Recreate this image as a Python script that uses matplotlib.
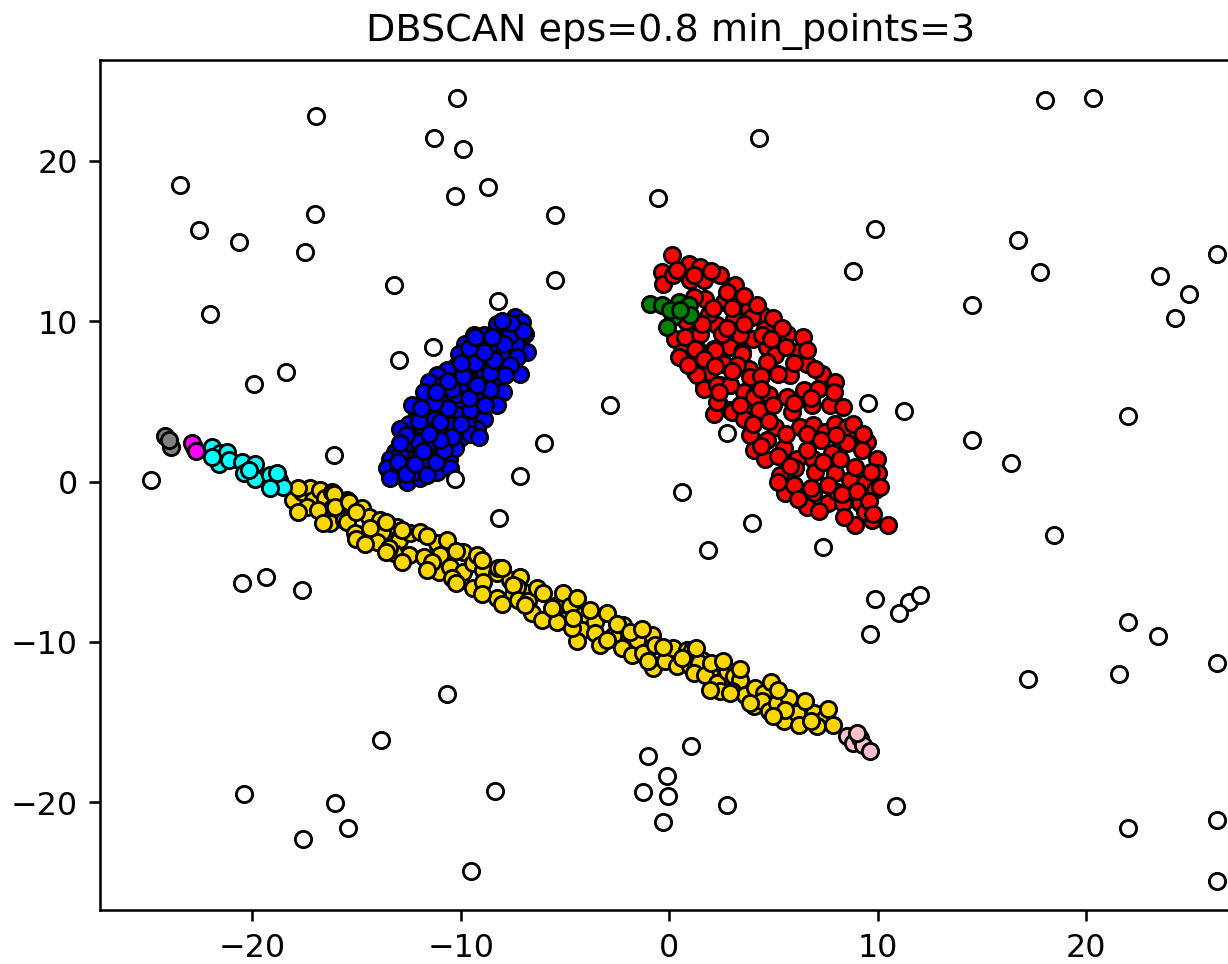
import matplotlib
matplotlib.use("Agg")
from matplotlib import pyplot as plt

# cluster members (x, y)
blue_x = [-7.39, -7.87, -6.91, -7.31, -6.83, -7.35, -7.95, -8.34, -8.82, -9.38, -9.78, -10.10,
          -8.42, -7.95, -7.31, -7.15, -7.63, -9.14, -10.26, -10.66, -11.14, -11.54, -11.78, -9.78,
          -9.38, -8.50, -7.95, -8.82, -9.22, -10.02, -10.90, -11.38, -12.10, -12.34, -12.50, -12.90,
          -11.86, -11.22, -10.66, -10.02, -9.54, -8.90, -9.22, -9.70, -10.42, -10.98, -11.78, -12.26,
          -12.74, -13.14, -13.38, -13.54, -12.98, -12.42, -11.94, -11.30, -10.66, -10.02, -9.54, -9.14,
          -12.58, -11.94, -11.14, -10.58, -10.26, -12.90, -13.38, -12.26, -11.70, -11.06, -10.50, -11.46,
          -12.02, -10.90, -10.34, -9.78, -8.90, -8.34, -7.87, -8.26, -8.82, -8.58, -9.46, -8.90,
          -8.26, -7.07, -7.63,
          -13.00, -12.60, -12.20, -11.60, -11.80, -11.20, -10.80, -10.40, -11.00, -11.50, -12.00, -12.60,
          -12.90, -11.00, -10.60, -11.30, -11.90, -10.00, -9.60, -10.40, -11.20, -9.20, -9.90, -10.60,
          -8.60, -9.30, -10.00, -8.40, -8.90, -9.60, -7.90, -8.50, -7.00, -7.60, -8.00, -9.30]
blue_y = [10.26, 9.84, 9.22, 9.53, 8.08, 8.60, 8.91, 9.33, 8.60, 9.12, 8.60, 7.98,
          8.29, 7.98, 7.77, 6.73, 7.25, 7.36, 7.15, 6.94, 6.63, 6.21, 5.59, 6.01,
          6.21, 6.21, 5.59, 5.39, 5.07, 4.97, 5.07, 4.56, 4.35, 4.76, 3.62, 3.31,
          3.31, 3.93, 4.04, 4.14, 4.45, 3.93, 3.31, 3.52, 3.52, 3.10, 3.21, 2.58,
          2.27, 1.86, 1.44, 0.82, 0.82, 1.44, 1.65, 1.86, 2.27, 2.69, 3.00, 2.79,
          -0.01, 0.20, 0.61, 1.44, 2.07, 1.65, 0.20, 0.61, 1.03, 1.44, 0.82, 2.48,
          2.48, 6.01, 5.39, 6.84, 6.84, 7.04, 6.63, 4.76, 4.76, 5.80, 7.98, 9.12,
          9.84, 9.95, 9.12,
          1.20, 0.50, 1.10, 0.40, 1.90, 1.20, 2.00, 2.80, 2.60, 3.00, 3.80, 2.90,
          2.40, 3.70, 4.60, 4.90, 4.60, 3.60, 5.20, 5.80, 5.60, 6.00, 6.60, 6.30,
          6.80, 7.40, 7.40, 7.60, 8.10, 8.30, 8.60, 9.00, 9.40, 9.90, 10.00, 9.00]

red_x = [0.13, 0.93, 1.49, 2.45, 3.17, -0.35, -0.27, 0.21, 1.01, 1.65, 1.73, 2.61,
         3.25, 3.81, 4.44, 4.60, 3.96, 3.09, 2.29, 1.89, 1.49, 1.01, 0.29, 0.61,
         1.33, 2.13, 2.93, 3.49, 4.04, 4.68, 3.25, 3.81, 2.61, 1.73, 0.45, 1.25,
         1.89, 1.65, 2.45, 2.93, 3.57, 4.12, 4.68, 2.37, 2.93, 3.81, 4.36, 2.13,
         0.77, 1.49, 2.53, 3.41, 4.45, 5.65, 1.25, 2.21, 3.49, 5.09, 6.13, 1.65,
         3.25, 3.89, 4.69, 5.81, 6.61, 7.32, 7.96, 1.33, 1.65, 2.29, 2.93, 4.05,
         4.77, 5.65, 6.45, 7.16, 7.72, 8.36, 2.29, 3.01, 3.57, 4.29, 5.09, 5.89,
         6.29, 6.92, 6.84, 7.48, 7.96, 8.52, 9.00, 9.48, 9.96, 3.89, 4.69, 5.49,
         6.13, 6.92, 7.80, 8.52, 9.24, 4.05, 4.61, 5.33, 6.05, 7.00, 7.96, 8.68,
         9.40, 10.04, 5.57, 6.92, 7.64, 8.36, 9.16, 9.88, 6.61, 8.04, 8.92, 9.72,
         10.52, 9.40, 10.12,
         0.40, 1.20, 2.00, 2.80, 3.60, 4.20, 5.00, 5.40, 6.40, 1.20, 2.10, 3.00,
         0.80, 1.60, 2.80, 3.60, 4.90, 5.60, 6.60, 0.90, 2.20, 3.00, 4.40, 5.20,
         6.00, 7.00, 2.40, 4.40, 5.00, 6.00, 6.80, 7.90, 3.40, 4.00, 4.80, 5.60,
         6.60, 7.30, 8.00, 8.80, 9.30, 4.40, 5.20, 5.80, 6.60, 7.40, 8.20, 8.90,
         9.70, 5.20, 6.00, 6.80, 7.60, 8.30, 9.00, 9.60, 6.20, 7.20, 8.40, 9.80]
red_y = [14.10, 13.58, 13.37, 12.85, 12.23, 13.06, 12.33, 12.85, 12.54, 12.54, 11.40, 11.19,
         11.40, 10.78, 10.36, 9.53, 10.26, 10.16, 9.74, 10.47, 9.33, 8.81, 8.91, 8.08,
         8.29, 8.29, 8.39, 8.08, 8.91, 8.39, 7.25, 7.04, 7.36, 7.77, 7.77, 6.84,
         6.73, 5.90, 6.01, 6.01, 5.59, 5.38, 5.48, 4.87, 4.45, 4.35, 4.56, 4.24,
         9.02, 9.22, 9.22, 9.12, 9.12, 9.22, 8.29, 8.19, 7.98, 7.87, 8.08, 7.67,
         7.25, 6.53, 7.46, 6.63, 7.36, 6.73, 6.21, 6.63, 5.80, 6.01, 6.01, 5.28,
         5.39, 5.28, 5.70, 5.80, 4.76, 4.66, 4.97, 4.35, 3.93, 4.45, 3.41, 4.35,
         3.41, 3.52, 4.76, 3.10, 3.62, 3.41, 2.79, 2.48, 1.44, 2.90, 2.59, 2.07,
         1.44, 1.44, 1.76, 2.38, 1.96, 1.96, 1.44, 0.41, 0.82, 0.61, 0.51, 0.10,
         -0.11, 0.51, -0.73, -0.73, -1.36, -1.36, -1.36, -0.53, -1.56, -0.63, -2.70, -2.39,
         -2.70, -1.87, -0.32,
         13.20, 12.90, 13.10, 11.80, 11.60, 11.00, 10.20, 9.60, 9.00, 11.50, 10.80, 10.80,
         10.00, 9.80, 9.60, 9.80, 8.90, 8.40, 8.20, 7.30, 7.20, 6.90, 6.60, 6.70,
         7.40, 7.00, 5.60, 5.80, 4.80, 4.90, 5.20, 5.60, 4.80, 3.60, 3.80, 3.00,
         3.00, 2.60, 2.90, 3.60, 3.00, 2.20, 1.60, 1.00, 2.00, 1.20, 1.40, 0.90,
         0.60, 0.00, -0.20, -0.40, -0.20, -0.80, -0.60, -1.20, -1.10, -1.80, -2.20, -2.00]

gold_x = [-18.02, -17.62, -17.22, -17.06, -16.74, -16.50, -16.18, -16.18, -15.70, -15.46, -15.94, -16.26,
          -15.62, -17.38, -16.82, -16.10, -16.02, -15.38, -15.46, -14.74, -14.42, -15.06, -13.86, -13.78,
          -14.02, -14.34, -12.98, -13.06, -12.42, -11.94, -12.50, -11.78, -13.22, -11.14, -10.66, -10.98,
          -11.06, -10.50, -9.87, -9.87, -9.39, -9.23, -8.91, -9.39, -8.27, -8.19, -7.63, -7.15,
          -8.27, -7.47, -6.83, -7.31, -10.42, -11.38, -13.46, -8.91, -7.47, -7.23, -6.75, -6.35,
          -6.03, -6.59, -6.11, -5.39, -5.07, -4.75, -4.43, -4.99, -4.11, -4.19, -3.55, -3.55,
          -2.99, -2.67, -2.19, -2.27, -1.79, -1.55, -1.24, -0.84, -0.68, -0.76, -0.20, 0.20,
          0.84, 0.36, 1.00, 1.56, 1.96, -3.31, -4.43, -4.67, -5.39, 1.09, 1.41, 1.17,
          1.73, 2.29, 2.77, 3.09, 3.41, 3.01, 2.45, 3.65, 4.13, 4.53, 4.05, 4.45,
          4.77, 5.17, 5.49, 5.73, 6.13, 6.21, 5.57, 6.93, 7.48, 7.09, 7.88, 1.97,
          -17.80, -17.80, -16.60, -15.00, -15.00, -14.60, -13.60, -13.60, -12.80, -12.80, -11.60, -11.60,
          -10.20, -10.20, -9.00, -9.00, -8.00, -8.00, -6.90, -5.60, -4.60, -3.80, -2.50, -3.00,
          -1.90, -1.30, -1.00, -0.30, 0.60, 1.30, 2.00, 2.60, 3.40, 2.90, 4.90, 5.20,
          3.90, 5.00, 6.50, 6.80, 7.60]
gold_y = [-1.15, -0.63, -0.42, -1.15, -0.53, -1.04, -0.63, -1.67, -1.36, -1.15, -2.29, -2.60,
          -2.39, -1.56, -1.77, -0.74, -1.57, -1.26, -2.50, -1.67, -2.19, -3.23, -2.40, -3.13,
          -3.75, -2.92, -3.64, -2.81, -3.23, -3.13, -4.58, -4.68, -4.47, -3.85, -3.64, -4.58,
          -5.61, -5.30, -5.61, -4.37, -5.10, -4.58, -5.51, -6.65, -5.72, -5.41, -6.13, -5.93,
          -7.27, -7.07, -6.96, -6.55, -6.03, -4.99, -4.16, -6.24, -6.44, -7.37, -7.47, -6.64,
          -6.95, -8.20, -8.61, -7.68, -6.95, -7.78, -7.27, -8.61, -8.30, -9.24, -8.72, -9.44,
          -8.20, -9.65, -8.92, -10.38, -10.79, -9.86, -10.69, -9.55, -10.17, -11.62, -11.21, -10.38,
          -10.48, -11.52, -11.52, -11.10, -11.83, -10.17, -9.96, -9.13, -8.72, -10.48, -11.31, -11.93,
          -12.04, -12.56, -11.83, -12.14, -12.35, -13.08, -13.08, -13.28, -12.87, -13.18, -14.01, -13.70,
          -14.32, -13.80, -14.94, -13.49, -14.42, -15.15, -14.22, -14.42, -14.73, -15.25, -15.15, -12.97,
          -0.40, -1.90, -2.60, -1.90, -3.60, -3.90, -2.50, -4.40, -3.00, -5.00, -3.40, -5.50,
          -4.30, -6.30, -4.90, -7.00, -5.40, -7.60, -7.70, -7.90, -8.50, -8.00, -8.90, -9.90,
          -9.40, -9.20, -11.20, -10.30, -11.00, -10.40, -11.30, -11.20, -11.70, -13.20, -12.50, -13.00,
          -13.80, -14.60, -13.70, -14.90, -14.20]

green_x = [-0.91, -0.35, 0.45, 0.93, 0.98, 0.21, -0.11, 0.05, 0.53]
green_y = [11.09, 10.99, 11.19, 10.99, 10.36, 10.26, 9.64, 10.67, 10.67]

cyan_x = [-21.93, -21.53, -21.21, -21.61, -21.93, -21.13, -20.49, -19.85, -20.41, -19.85, -20.17,
          -19.13, -18.73, -18.50, -19.13, -18.81]
cyan_y = [2.17, 1.76, 1.86, 1.13, 1.55, 1.34, 1.24, 1.13, 0.51, 0.14, 0.72,
          0.41, 0.10, -0.32, -0.42, 0.51]

magenta_x = [-22.81, -22.89, -22.68]
magenta_y = [2.17, 2.38, 1.92]

gray_x = [-24.17, -23.90, -24.00]
gray_y = [2.83, 2.17, 2.60]

pink_x = [8.52, 8.84, 9.16, 9.32, 9.64, 8.99]
pink_y = [-15.88, -16.29, -15.98, -16.39, -16.81, -15.67]

noise_x = [-16.93, -10.17, -23.45, -11.27, -9.88, -8.68, -10.26, -16.98, -22.54, -20.62, -17.46, -5.47,
           -0.53, 4.32, 18.03, 20.34, 9.88, 8.82, 16.74, 17.79, 23.55, 24.94, 26.28, 24.27,
           14.53, -22.01, -13.19, -11.32, -8.20, -12.95, -18.37, -19.90, -5.47, -2.83, 9.54, 11.27,
           14.53, 22.01, 16.40, 2.78, -6.00, -10.26, -16.07, -24.84, -7.15, -8.15, 0.62, 1.87,
           3.98, 7.39, 18.47, -20.48, -19.33, -17.60, 9.88, 11.51, 12.04, 11.03, 9.64, 22.01,
           23.45, 26.28, 21.58, 17.22, -10.65, -13.81, -1.01, 1.06, -0.10, -1.25, -0.05, -0.29,
           2.78, -20.38, -16.02, -15.40, -17.55, -8.35, -9.50, 10.89, 22.01, 26.28, 26.28]
noise_y = [22.81, 23.89, 18.51, 21.44, 20.75, 18.39, 17.83, 16.71, 15.71, 14.96, 14.34, 16.65,
           17.70, 21.44, 23.80, 23.93, 15.77, 13.16, 15.09, 13.04, 12.79, 11.67, 14.16, 10.17,
           10.98, 10.42, 12.23, 8.37, 11.29, 7.56, 6.81, 6.07, 12.54, 4.76, 4.88, 4.38,
           2.58, 4.08, 1.15, 3.02, 2.39, 0.16, 1.65, 0.09, 0.34, -2.27, -0.65, -4.26,
           -2.58, -4.08, -3.33, -6.32, -5.94, -6.75, -7.31, -7.50, -7.06, -8.18, -9.49, -8.74,
           -9.61, -11.29, -11.98, -12.29, -13.22, -16.08, -17.08, -16.46, -18.33, -19.32, -19.57, -21.19,
           -20.13, -19.45, -20.01, -21.62, -22.30, -19.26, -24.30, -20.19, -21.56, -21.12, -24.90]

clusters = [
    (gold_x, gold_y, 'gold'),
    (cyan_x, cyan_y, 'cyan'),
    (magenta_x, magenta_y, 'magenta'),
    (gray_x, gray_y, 'gray'),
    (pink_x, pink_y, 'pink'),
    (blue_x, blue_y, 'blue'),
    (red_x, red_y, 'red'),
    (green_x, green_y, 'green'),
    (noise_x, noise_y, 'white'),
]

DPI = 229
fig = plt.figure(figsize=(1228.3 / DPI, 964.3 / DPI), dpi=DPI)
ax = fig.add_axes([100 / 1228, 54 / 964, 1140 / 1228, 850 / 964])

for xs, ys, col in clusters:
    ax.plot(xs, ys, 'o', markerfacecolor=col, markeredgecolor='k',
            markersize=5.1, markeredgewidth=0.9)

ax.set_xlim(-27.3, 27.4)
ax.set_ylim(-26.7, 26.3)
ax.set_title('DBSCAN eps=0.8 min_points=3')

fig.savefig('out.png', dpi=DPI)
